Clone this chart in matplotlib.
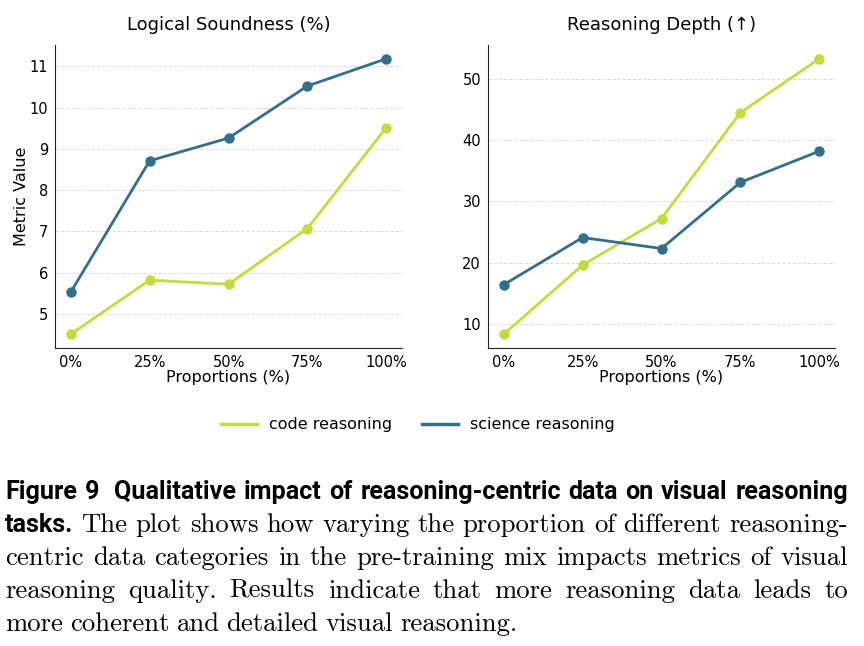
import matplotlib
matplotlib.use("Agg")
import matplotlib.pyplot as plt
from matplotlib.font_manager import FontProperties

plt.rcParams["font.family"] = ["DejaVu Sans"]

proportions = ["0%", "25%", "50%", "75%", "100%"]
series_names = ["code reasoning", "science reasoning"]
soundness_code = [4.51, 5.82, 5.72, 7.07, 9.51]
soundness_science = [5.53, 8.71, 9.26, 10.52, 11.18]
depth_code = [8.3, 19.6, 27.2, 44.5, 53.3]
depth_science = [16.4, 24.1, 22.3, 33.1, 38.2]
panel_titles = ["Logical Soundness (%)", "Reasoning Depth (\u2191)"]

colors = ["#c4dc3a", "#336f8b"]

caption_head = "Figure 9"
caption_title = "Qualitative impact of reasoning-centric data on visual reasoning tasks."
caption_body = ("The plot shows how varying the proportion of different reasoning-"
                " centric data categories in the pre-training mix impacts metrics of visual"
                " reasoning quality. Results indicate that more reasoning data leads to"
                " more coherent and detailed visual reasoning.")

W, H = 864, 646
fig = plt.figure(figsize=(W / 100, H / 100), dpi=100)

panels = [(soundness_code, soundness_science), (depth_code, depth_science)]
lefts = [55, 488]
xs = list(range(len(proportions)))
axes = []
for i, (code, sci) in enumerate(panels):
    ax = fig.add_axes([lefts[i] / W, 1 - 348 / H, 347 / W, 303 / H])
    ax.plot(xs, code, color=colors[0], lw=2, marker="o", ms=6.5, label=series_names[0])
    ax.plot(xs, sci, color=colors[1], lw=2, marker="o", ms=6.5, label=series_names[1])
    ax.set_xticks(xs)
    ax.set_xticklabels(proportions)
    ax.set_title(panel_titles[i], fontsize=13, pad=11)
    ax.set_xlabel("Proportions (%)", fontsize=11.5, labelpad=0)
    ax.grid(axis="y", ls="--", lw=0.7, color="#dddddd")
    ax.set_axisbelow(True)
    for s in ["top", "right"]:
        ax.spines[s].set_visible(False)
    for s in ["left", "bottom"]:
        ax.spines[s].set_color("#222222")
    ax.tick_params(length=0, labelsize=10.5, pad=5)
    axes.append(ax)
axes[0].set_ylabel("Metric Value", fontsize=11.5, labelpad=0)

fig.legend([plt.Line2D([], [], color=c, lw=2.5) for c in colors], series_names,
           loc="center", bbox_to_anchor=(418 / W, 1 - 425 / H), ncol=2,
           frameon=False, fontsize=11.5, columnspacing=1.9, handlelength=2.25,
           handletextpad=0.75)

# caption, justified word by word
words = [(w, "b") for w in (caption_head + " " + caption_title).split()]
words += [(w, "s") for w in caption_body.split()]
line_breaks = [10, 21, 32, 42]   # index of first word of each next line
line_y = [492, 525, 558, 591, 624]
x0, x1 = 5, 848

renderer = fig.canvas.get_renderer()


def natural_width(items, props):
    tot = 0
    for w, k in items:
        t = fig.text(0, 0, w + " ", fontproperties=props[k])
        tot += t.get_window_extent(renderer).width
        t.remove()
    return tot


lines, start = [], 0
for b in line_breaks + [len(words)]:
    lines.append(words[start:b])
    start = b

# fit font sizes so the lines are nearly full with normal spacing
props = {"b": FontProperties(family=["Roboto", "DejaVu Sans"], weight="bold", size=10),
         "s": FontProperties(family=["cmr10", "DejaVu Serif"], size=10)}
wb = natural_width(lines[0], props)
props["b"].set_size(10 * (x1 - x0 - 10) / wb)
ws = natural_width(lines[2], props)
props["s"].set_size(10 * (x1 - x0 + 4) / ws)

for li, line in enumerate(lines):
    texts = [fig.text(0, 0, w, fontproperties=props[k], va="center", ha="left") for w, k in line]
    widths = [t.get_window_extent(renderer).width for t in texts]
    gaps = len(texts) - 1
    last = li == len(lines) - 1
    extra = 8 if li == 0 else 0
    gap = 7 if last else (x1 - x0 - sum(widths) - extra) / gaps
    x = x0
    for k, t in enumerate(texts):
        t.set_position((x / W, 1 - line_y[li] / H))
        x += widths[k] + gap
        if li == 0 and k == 1:
            x += extra

fig.savefig("out.png", dpi=100)
